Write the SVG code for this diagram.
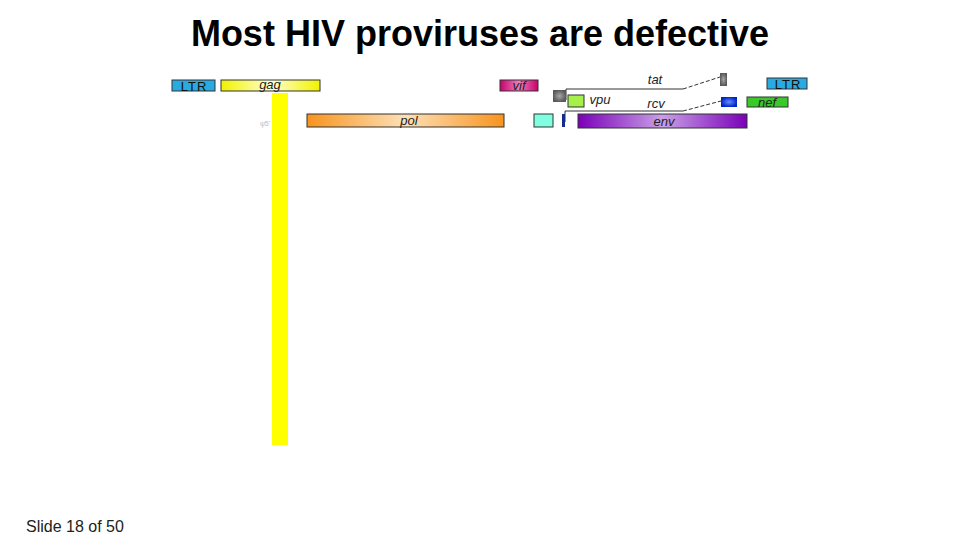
<svg xmlns="http://www.w3.org/2000/svg" width="960" height="540" viewBox="0 0 960 540">
<defs>
<linearGradient id="gY" x1="0" x2="1"><stop offset="0" stop-color="#f2f200"/><stop offset="0.5" stop-color="#ffffd0"/><stop offset="1" stop-color="#f2f200"/></linearGradient>
<linearGradient id="gO" x1="0" x2="1"><stop offset="0" stop-color="#f7941d"/><stop offset="0.5" stop-color="#fde0b8"/><stop offset="1" stop-color="#f7941d"/></linearGradient>
<linearGradient id="gP" x1="0" x2="1"><stop offset="0" stop-color="#7a00b8"/><stop offset="0.5" stop-color="#c9a0e6"/><stop offset="1" stop-color="#7a00b8"/></linearGradient>
<linearGradient id="gM" x1="0" x2="1"><stop offset="0" stop-color="#c8006e"/><stop offset="0.5" stop-color="#ef7fb8"/><stop offset="1" stop-color="#c8006e"/></linearGradient>
<radialGradient id="gB"><stop offset="0" stop-color="#6a8cff"/><stop offset="1" stop-color="#0026c8"/></radialGradient>
<radialGradient id="gG"><stop offset="0" stop-color="#a8a8a8"/><stop offset="1" stop-color="#5a5a5a"/></radialGradient>
<style>
.t{font-family:"Liberation Sans",Arial,sans-serif}
.g{font-family:"Liberation Sans",Arial,sans-serif;font-style:italic;font-size:13px;fill:#222;text-anchor:middle}
.l{font-family:"Liberation Sans",Arial,sans-serif;font-size:13px;fill:#111;text-anchor:middle;letter-spacing:1px}
.bx{stroke:#333;stroke-width:1}
.ln{stroke:#333;stroke-width:1;fill:none}
.ds{stroke:#333;stroke-width:1;fill:none;stroke-dasharray:4 2}
</style>
</defs>
<rect width="960" height="540" fill="#fff"/>
<text class="t" x="480" y="46" font-size="36" font-weight="bold" text-anchor="middle" fill="#000">Most HIV proviruses are defective</text>

<g id="connectors">
<path class="ln" d="M566 100 V89 H683"/>
<path class="ds" d="M683 89 L720 77"/>
<path class="ln" d="M565 122 V111 H683"/>
<path class="ds" d="M683 111 L721 101"/>
</g>

<g id="LTR5"><rect class="bx" x="172" y="80" width="43" height="11" fill="#29abe2"/><text class="l" x="194" y="91">LTR</text></g>
<g id="gag"><rect class="bx" x="221" y="80" width="99" height="11" fill="url(#gY)"/><text class="g" x="270" y="89">gag</text></g>
<g id="defect"><rect x="272" y="93" width="16" height="352" fill="#ffff00"/></g>
<g id="psi"><text class="t" x="265" y="126" font-size="7" fill="#bbb" text-anchor="middle">ψ5'</text></g>
<g id="pol"><rect class="bx" x="307" y="114" width="197" height="13" fill="url(#gO)"/><text class="g" x="409" y="125">pol</text></g>
<g id="vif"><rect class="bx" x="500" y="80" width="38" height="11" fill="url(#gM)"/><text class="g" x="519" y="90">vif</text></g>
<g id="vpr"><rect x="553" y="90" width="13" height="12" fill="url(#gG)"/></g>
<g id="vpu"><rect class="bx" x="568" y="95" width="16" height="12" fill="#a6f04a"/><text class="g" x="600" y="104">vpu</text></g>
<g id="tat"><text class="g" x="655" y="84">tat</text><rect x="720" y="73" width="7" height="13" fill="url(#gG)"/></g>
<g id="rev"><text class="g" x="656" y="108">rcv</text><rect x="721" y="97" width="16" height="10" fill="url(#gB)"/></g>
<g id="tatex1"><rect class="bx" x="534" y="114" width="19" height="13" fill="#7fffe0"/></g>
<g id="revex1"><rect x="562" y="114" width="3" height="13" fill="#1a2a8a"/></g>
<g id="env"><rect class="bx" x="578" y="114" width="169" height="14" fill="url(#gP)"/><text class="g" x="664" y="126">env</text></g>
<g id="LTR3"><rect class="bx" x="767" y="78" width="40" height="11" fill="#29abe2"/><text class="l" x="788" y="89">LTR</text></g>
<g id="nef"><rect class="bx" x="747" y="97" width="41" height="10" fill="#3ac82a"/><text class="g" x="767" y="107">nef</text></g>

<text class="t" x="26" y="532" font-size="16" fill="#222">Slide 18 of 50</text>
</svg>
